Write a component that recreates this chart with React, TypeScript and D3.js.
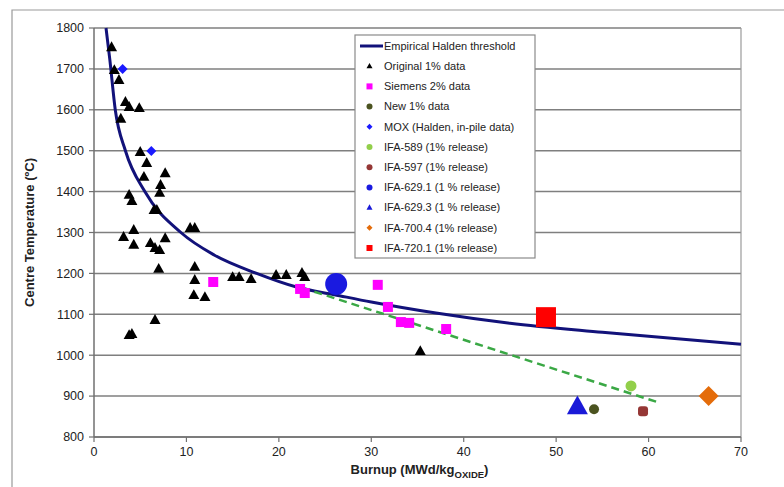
import React from "react";
import * as d3 from "d3";

const xTicks = [0, 10, 20, 30, 40, 50, 60, 70];
const yTicks = [800, 900, 1000, 1100, 1200, 1300, 1400, 1500, 1600, 1700, 1800];

// Empirical Halden threshold
const haldenBu = [1.3, 1.7, 2.3, 3.4, 5.5, 9.4, 13, 17.6, 22, 26, 30, 37, 45, 55, 70];
const haldenT = [1800, 1725, 1600, 1500, 1400, 1300, 1245, 1200, 1166, 1148, 1130, 1103, 1078, 1056, 1027];

// green dashed trend
const trendBu = [22.5, 61];
const trendT = [1165, 885];

const origBu = [1.9, 2.2, 2.7, 3.4, 3.8, 4.9, 2.9, 5.0, 5.7, 5.4, 7.7, 7.2, 7.1, 3.8, 4.1, 6.5, 6.8, 10.4, 10.9, 3.2, 4.3, 4.3, 6.1, 7.7, 6.6, 7.1, 7.0, 10.9, 10.9, 10.8, 12.0, 6.6, 3.8, 4.1, 15.0, 15.7, 17.0, 19.7, 20.8, 22.5, 22.8, 35.3];
const origT = [1753, 1697, 1673, 1619, 1607, 1604, 1578, 1497, 1470, 1436, 1445, 1416, 1397, 1392, 1377, 1355, 1355, 1311, 1311, 1289, 1306, 1270, 1274, 1286, 1262, 1257, 1211, 1216, 1184, 1147, 1142, 1086, 1049, 1052, 1191, 1191, 1186, 1196, 1196, 1201, 1191, 1010];

const siemensBu = [12.9, 22.3, 22.8, 30.7, 31.8, 33.2, 34.1, 38.1];
const siemensT = [1179, 1162, 1152, 1172, 1118, 1081, 1079, 1064];

const moxBu = [3.1, 6.2];
const moxT = [1700, 1499];

const new1Bu = [54.1];
const new1T = [868];
const ifa589Bu = [58.1];
const ifa589T = [925];
const ifa597Bu = [59.4];
const ifa597T = [863];
const ifa6291Bu = [26.2];
const ifa6291T = [1174];
const ifa6293Bu = [52.3];
const ifa6293T = [874];
const ifa7004Bu = [66.5];
const ifa7004T = [900];
const ifa7201Bu = [48.9];
const ifa7201T = [1093];

const legendLabels = [
  "Empirical Halden threshold",
  "Original 1% data",
  "Siemens 2% data",
  "New 1% data",
  "MOX (Halden, in-pile data)",
  "IFA-589 (1% release)",
  "IFA-597 (1% release)",
  "IFA-629.1 (1 % release)",
  "IFA-629.3 (1 % release)",
  "IFA-700.4 (1% release)",
  "IFA-720.1 (1% release)",
];

type Shape = "triangle" | "square" | "circle" | "diamond" | "rsquare";

function Marker({ shape, cx, cy, size, fill }: { shape: Shape; cx: number; cy: number; size: number; fill: string }) {
  const h = size / 2;
  if (shape === "triangle") {
    const hh = size * 0.9;
    return <path d={`M${cx},${cy - hh * 0.6}L${cx + h},${cy + hh * 0.4}L${cx - h},${cy + hh * 0.4}Z`} fill={fill} />;
  }
  if (shape === "square") return <rect x={cx - h} y={cy - h} width={size} height={size} fill={fill} />;
  if (shape === "rsquare") return <rect x={cx - h} y={cy - h} width={size} height={size} rx={size * 0.3} fill={fill} />;
  if (shape === "circle") return <circle cx={cx} cy={cy} r={h} fill={fill} />;
  return <path d={`M${cx},${cy - h}L${cx + h},${cy}L${cx},${cy + h}L${cx - h},${cy}Z`} fill={fill} />;
}

export default function App() {
  const W = 784, H = 487;
  const x = d3.scaleLinear().domain([0, 70]).range([94, 741]);
  const y = d3.scaleLinear().domain([800, 1800]).range([437, 28]);

  const line = d3
    .line<[number, number]>()
    .x((d) => x(d[0]))
    .y((d) => y(d[1]))
    .curve(d3.curveMonotoneX);
  const halden = line(haldenBu.map((b, i) => [b, haldenT[i]] as [number, number])) || "";
  const trend = d3
    .line<[number, number]>()
    .x((d) => x(d[0]))
    .y((d) => y(d[1]))(trendBu.map((b, i) => [b, trendT[i]] as [number, number])) || "";

  const series: { bu: number[]; t: number[]; shape: Shape; size: number; fill: string }[] = [
    { bu: origBu, t: origT, shape: "triangle", size: 11, fill: "#000000" },
    { bu: siemensBu, t: siemensT, shape: "square", size: 10, fill: "#ff00ff" },
    { bu: moxBu, t: moxT, shape: "diamond", size: 10, fill: "#1a1aff" },
    { bu: new1Bu, t: new1T, shape: "circle", size: 10, fill: "#4b5320" },
    { bu: ifa589Bu, t: ifa589T, shape: "circle", size: 11, fill: "#92cf4a" },
    { bu: ifa597Bu, t: ifa597T, shape: "rsquare", size: 10, fill: "#953735" },
    { bu: ifa6291Bu, t: ifa6291T, shape: "circle", size: 22, fill: "#1a1ae0" },
    { bu: ifa6293Bu, t: ifa6293T, shape: "triangle", size: 21, fill: "#1a1ad8" },
    { bu: ifa7004Bu, t: ifa7004T, shape: "diamond", size: 20, fill: "#e46c0a" },
    { bu: ifa7201Bu, t: ifa7201T, shape: "square", size: 20, fill: "#ff0000" },
  ];
  const legendMarkers: { shape: Shape; fill: string }[] = [
    { shape: "triangle", fill: "#000000" },
    { shape: "square", fill: "#ff00ff" },
    { shape: "circle", fill: "#4b5320" },
    { shape: "diamond", fill: "#1a1aff" },
    { shape: "circle", fill: "#92cf4a" },
    { shape: "circle", fill: "#953735" },
    { shape: "circle", fill: "#1a1ae0" },
    { shape: "triangle", fill: "#1a1ad8" },
    { shape: "diamond", fill: "#e46c0a" },
    { shape: "square", fill: "#ff0000" },
  ];

  const font = "Liberation Sans, Arial, sans-serif";
  const gx0 = x(0), gx1 = x(70);
  const lx = 355, ly = 35, lw = 180, lh = 223;
  const rowY = (i: number) => 46 + i * 20.2;

  return (
    <svg width={W} height={H} style={{ position: "absolute", left: 0, top: 0, background: "#fff" }} fontFamily={font}>
      <rect x={0} y={0} width={W} height={H} fill="#fff" />
      {/* outer frame */}
      <path d={`M12,${H}V10H${W}`} fill="none" stroke="#9a9a9a" strokeWidth={1.2} />
      {/* gridlines */}
      {yTicks.map((t) => (
        <line key={t} x1={gx0} x2={gx1} y1={y(t)} y2={y(t)} stroke="#7f7f7f" strokeWidth={1.5} />
      ))}
      {/* right border */}
      <line x1={gx1} x2={gx1} y1={y(1800)} y2={y(800)} stroke="#9a9a9a" strokeWidth={1.2} />
      {/* axes */}
      <line x1={gx0} x2={gx0} y1={y(1800)} y2={y(800)} stroke="#707070" strokeWidth={1.5} />
      <line x1={gx0} x2={gx1} y1={y(800)} y2={y(800)} stroke="#707070" strokeWidth={1.5} />
      {yTicks.map((t) => (
        <g key={"yt" + t}>
          <line x1={gx0 - 5} x2={gx0} y1={y(t)} y2={y(t)} stroke="#707070" strokeWidth={1.2} />
          <text x={gx0 - 10} y={y(t)} dy="0.35em" textAnchor="end" fontSize={12.5} fill="#222">
            {t}
          </text>
        </g>
      ))}
      {xTicks.map((t) => (
        <g key={"xt" + t}>
          <line x1={x(t)} x2={x(t)} y1={y(800)} y2={y(800) + 5} stroke="#707070" strokeWidth={1.2} />
          <text x={x(t)} y={y(800) + 19} textAnchor="middle" fontSize={12.5} fill="#222">
            {t}
          </text>
        </g>
      ))}
      {/* axis titles */}
      <text
        transform={`translate(34,${(y(1800) + y(800)) / 2}) rotate(-90)`}
        textAnchor="middle"
        fontSize={13}
        fontWeight="bold"
        fill="#222"
      >
        Centre Temperature (ºC)
      </text>
      <text x={(gx0 + gx1) / 2 + 2} y={y(800) + 37} textAnchor="middle" fontSize={13} fontWeight="bold" fill="#222">
        Burnup (MWd/kg<tspan fontSize={9.5} dy={4}>OXIDE</tspan>
        <tspan dy={-4}>)</tspan>
      </text>

      {/* curves */}
      <path d={halden} fill="none" stroke="#12127a" strokeWidth={3} />
      <path d={trend} fill="none" stroke="#3aa845" strokeWidth={2.5} strokeDasharray="8,5" />

      {/* markers */}
      {series.map((s, si) =>
        s.bu.map((b, i) => (
          <Marker key={si + "-" + i} shape={s.shape} cx={x(b)} cy={y(s.t[i])} size={s.size} fill={s.fill} />
        ))
      )}

      {/* legend */}
      <rect x={lx} y={ly} width={lw} height={lh} fill="#fff" stroke="#8a8a8a" strokeWidth={1.2} />
      <line x1={360} x2={383} y1={rowY(0)} y2={rowY(0)} stroke="#12127a" strokeWidth={3} />
      {legendLabels.map((lab, i) => (
        <text key={lab} x={384} y={rowY(i)} dy="0.35em" fontSize={11} fill="#222">
          {lab}
        </text>
      ))}
      {legendMarkers.map((m, i) => (
        <Marker key={"lm" + i} shape={m.shape} cx={369.5} cy={rowY(i + 1)} size={6} fill={m.fill} />
      ))}
    </svg>
  );
}
